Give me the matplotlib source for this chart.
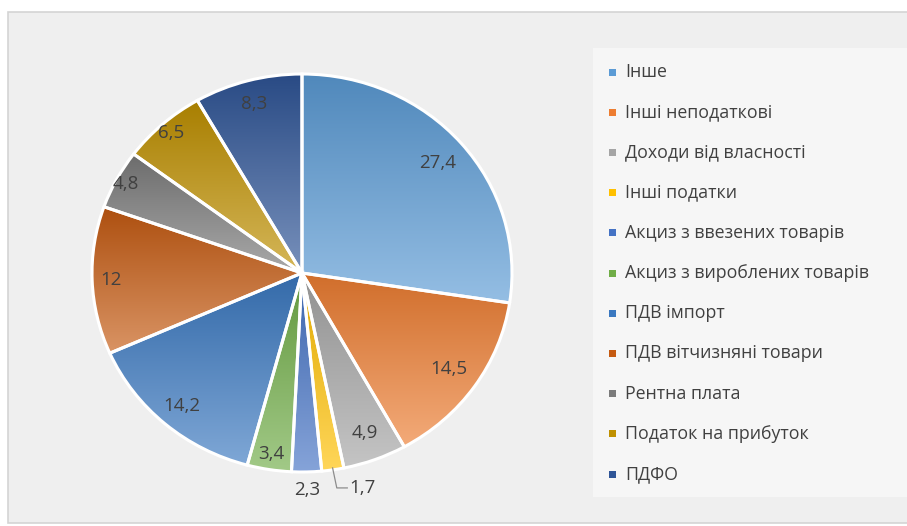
import numpy as np
import matplotlib
matplotlib.use('Agg')
import matplotlib.pyplot as plt
from matplotlib.patches import Rectangle
from matplotlib.colors import to_rgb

plt.rcParams['font.family'] = ['Open Sans', 'Noto Sans', 'DejaVu Sans']

# Структура доходів, %
categories = ['Інше', 'Інші неподаткові', 'Доходи від власності', 'Інші податки',
              'Акциз з ввезених товарів', 'Акциз з вироблених товарів', 'ПДВ імпорт',
              'ПДВ вітчизняні товари', 'Рентна плата', 'Податок на прибуток', 'ПДФО']
values = [27.4, 14.5, 4.9, 1.7, 2.3, 3.4, 14.2, 12, 4.8, 6.5, 8.3]
labels = ['27,4', '14,5', '4,9', '1,7', '2,3', '3,4', '14,2', '12', '4,8', '6,5', '8,3']

colors = ['#5b9bd5', '#ed7d31', '#a5a5a5', '#ffc000', '#4472c4', '#70ad47',
          '#3a78c0', '#c55a11', '#7b7b7b', '#bf9000', '#2f5597']
label_r = [0.85, 0.85, 0.86, None, 1.09, 0.92, 0.88, 0.91, 0.95, 0.94, 0.88]

W, H = 907, 526
fig = plt.figure(figsize=(W / 100, H / 100), dpi=100, facecolor='white')

# chart area and legend panel
fig.patches.append(Rectangle((8 / W, (H - 523) / H), 1, (523 - 12) / H, transform=fig.transFigure,
                             facecolor='#efefef', edgecolor='#d4d4d4', lw=1.2, zorder=-2))
fig.patches.append(Rectangle((593 / W, (H - 497) / H), 1, (497 - 48) / H, transform=fig.transFigure,
                             facecolor='#f6f6f6', edgecolor='none', zorder=-1))


def shade(c, f):
    c = np.array(to_rgb(c))
    if f < 0:
        return c * (1 + f)
    return c + (1 - c) * f


# pie is slightly wider than tall
cx, cy, Rx, Ry = 302, 273, 210, 199
ax = fig.add_axes([(cx - Rx) / W, (H - cy - Ry) / H, 2 * Rx / W, 2 * Ry / H])
ax.patch.set_visible(False)

wedges, _ = ax.pie(values, startangle=90, counterclock=False, radius=1,
                   wedgeprops=dict(edgecolor='white', linewidth=2.2))

for w, c in zip(wedges, colors):
    w.set_facecolor('none')
    w.set_zorder(3)
    ext = w.get_path().get_extents()
    top, bot = shade(c, -0.12), shade(c, 0.35)
    t = np.linspace(0, 1, 256)[:, None]
    grad = top[None, :] * (1 - t) + bot[None, :] * t
    img = ax.imshow(grad[:, None, :], extent=(ext.x0, ext.x1, ext.y0, ext.y1),
                    origin='upper', aspect='auto', zorder=2, interpolation='bilinear')
    img.set_clip_path(w)

ax.set_xlim(-1, 1)
ax.set_ylim(-1, 1)
ax.set_aspect('auto')
ax.axis('off')

cum = np.cumsum([0] + values)
tot = cum[-1]
for i, (lab, d) in enumerate(zip(labels, label_r)):
    mid = (cum[i] + cum[i + 1]) / 2 / tot * 2 * np.pi
    sx, sy = np.sin(mid), np.cos(mid)
    if d is None:
        # leader line for the thin slice
        p0 = (0.99 * sx, 0.99 * sy)
        p1 = (p0[0] + 0.02, -1.08)
        p2 = (p1[0] + 0.05, -1.08)
        ax.plot([p0[0], p1[0], p2[0]], [p0[1], p1[1], p2[1]], color='#8c8c8c', lw=0.9,
                zorder=4, clip_on=False)
        ax.text(p2[0] + 0.01, p2[1], lab, ha='left', va='center', fontsize=13.5,
                color='#404040', zorder=5)
        continue
    ax.text(d * sx, d * sy, lab, ha='center', va='center', fontsize=13.5,
            color='#404040', zorder=5)

# legend entries
for i, (name, c) in enumerate(zip(categories, colors)):
    y = 72 + i * 40.2
    fig.patches.append(Rectangle((609 / W, (H - y - 3.5) / H), 7 / W, 7 / H,
                                 transform=fig.transFigure, facecolor=c,
                                 edgecolor='none', zorder=2))
    fig.text(625 / W, (H - y) / H, name, ha='left', va='center', fontsize=12.8,
             color='#404040')

fig.savefig('out.png', dpi=100, facecolor='white')
